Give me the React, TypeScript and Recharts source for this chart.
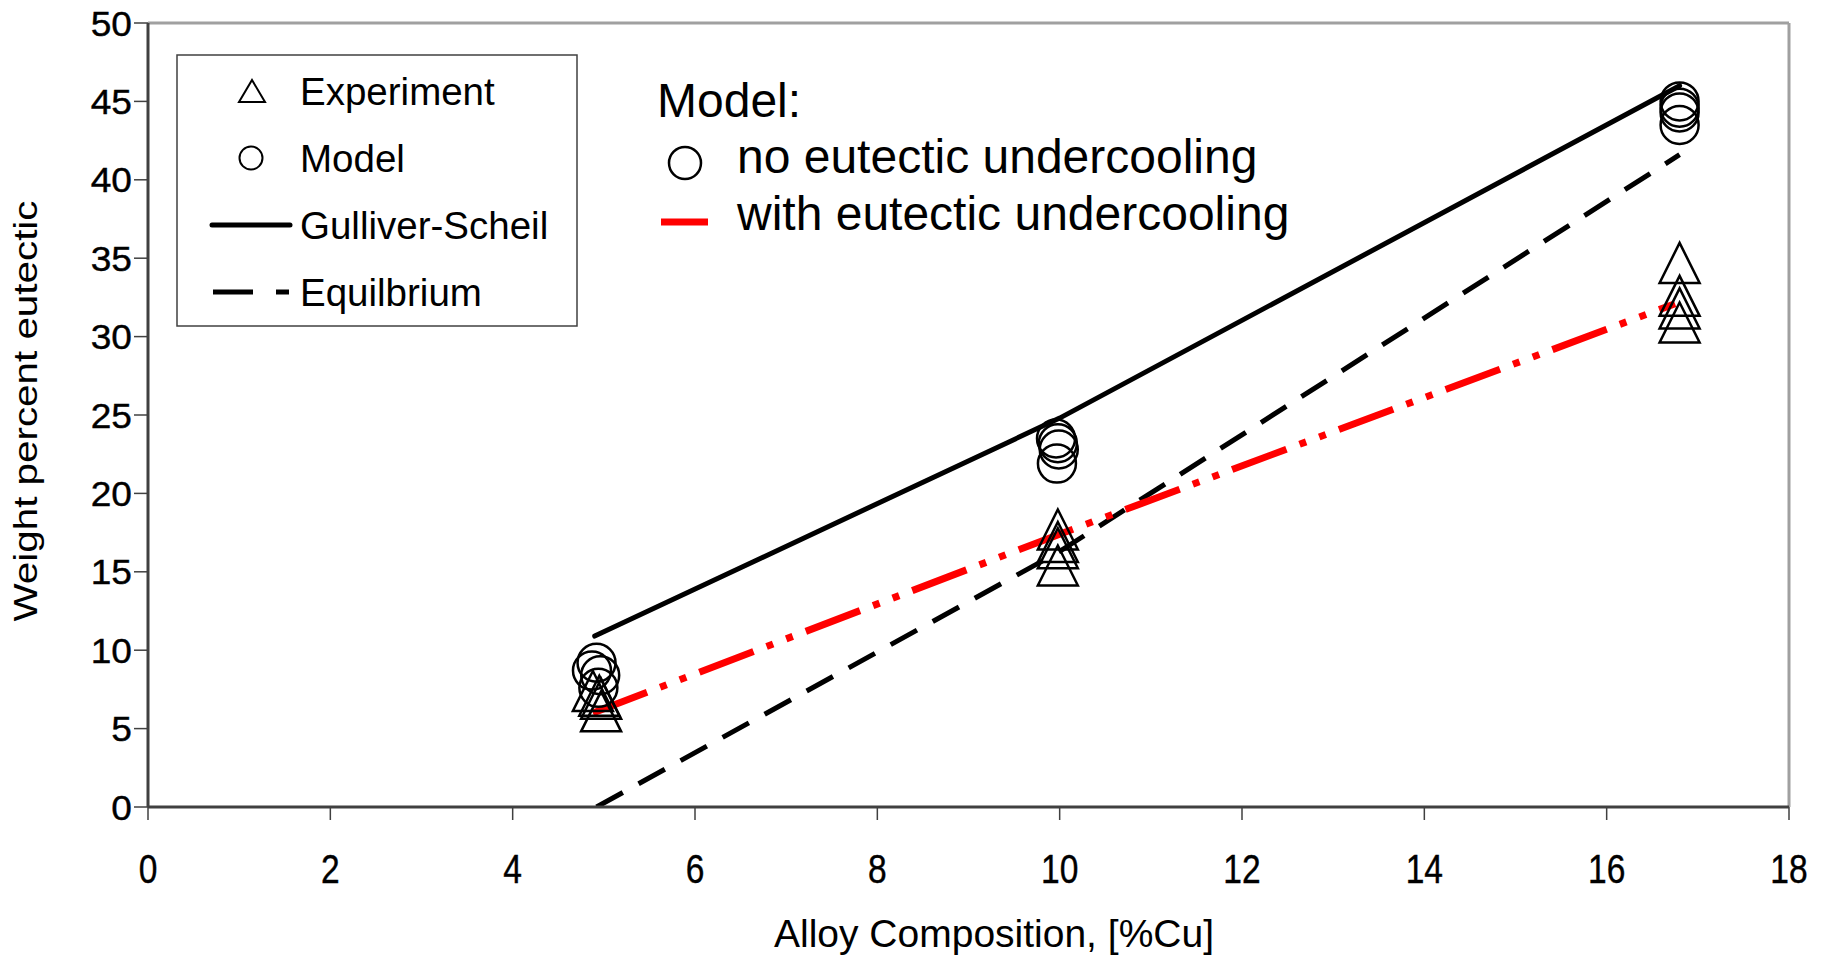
import React from 'react';
import { ComposedChart, Line, Scatter, XAxis, YAxis, ReferenceLine } from 'recharts';

const xTicks = [0, 2, 4, 6, 8, 10, 12, 14, 16, 18];
const yTicks = [0, 5, 10, 15, 20, 25, 30, 35, 40, 45, 50];

const experimentX = [4.88, 4.95, 4.97, 4.97, 9.98, 9.98, 9.98, 9.98, 16.8, 16.8, 16.8, 16.8];
const experimentY = [7.4, 7.1, 6.9, 6.1, 17.7, 16.9, 16.5, 15.4, 34.7, 32.6, 31.8, 30.9];

const modelX = [4.92, 4.87, 4.96, 4.94, 9.96, 9.98, 9.99, 9.97, 16.8, 16.8, 16.8, 16.8];
const modelY = [9.2, 8.7, 8.4, 7.6, 23.5, 23.2, 22.8, 21.9, 45.0, 44.6, 44.3, 43.5];

const scheilX = [4.9, 10.0, 16.8];
const scheilY = [10.9, 24.8, 46.0];

const equilibriumX = [4.92, 10.0, 16.8];
const equilibriumY = [0, 16.3, 41.6];

const undercoolX = [4.88, 10.0, 16.75];
const undercoolY = [6.0, 17.4, 32.1];

const zip = (xs: number[], ys: number[]) => xs.map((x, i) => ({ x, y: ys[i] }));

const experimentData = zip(experimentX, experimentY);
const modelData = zip(modelX, modelY);
const scheilData = zip(scheilX, scheilY);
const equilibriumData = zip(equilibriumX, equilibriumY);
const undercoolData = zip(undercoolX, undercoolY);

const FONT = 'Liberation Sans, Arial, sans-serif';

const Triangle = (props: any) => {
  const { cx, cy } = props;
  if (cx == null || cy == null) return null;
  const w = 20;
  const h = 20;
  return (
    <path
      d={`M${cx},${cy - h} L${cx + w},${cy + h} L${cx - w},${cy + h} Z`}
      fill="none"
      stroke="#000"
      strokeWidth={2.5}
      strokeLinejoin="miter"
    />
  );
};

const Circle = (props: any) => {
  const { cx, cy } = props;
  if (cx == null || cy == null) return null;
  return <circle cx={cx} cy={cy} r={19} fill="none" stroke="#000" strokeWidth={2.5} />;
};

const YTick = (props: any) => {
  const { x, y, payload } = props;
  return (
    <g transform={`translate(${x},${y})`}>
      <text x={0} y={0} dy={12.5} textAnchor="end" fontSize={35} fontFamily={FONT} fill="#000" stroke="#000" strokeWidth={0.4} transform="scale(1.06,1)">
        {payload.value}
      </text>
    </g>
  );
};

const XTick = (props: any) => {
  const { x, y, payload } = props;
  return (
    <g transform={`translate(${x},${y})`}>
      <text x={0} y={0} dy={63} textAnchor="middle" fontSize={40} fontFamily={FONT} fill="#000" stroke="#000" strokeWidth={0.4} transform="scale(0.84,1)">
        {payload.value}
      </text>
    </g>
  );
};

export default function App() {
  return (
    <div style={{ position: 'absolute', left: 0, top: 0, width: 1829, height: 956, background: '#fff' }}>
      <ComposedChart
        width={1829}
        height={956}
        margin={{ top: 23, right: 40, bottom: 49, left: 0 }}
      >
        <XAxis
          dataKey="x"
          type="number"
          domain={[0, 18]}
          ticks={xTicks}
          allowDataOverflow
          height={100}
          tickSize={13}
          tickMargin={0}
          axisLine={{ stroke: '#404040', strokeWidth: 3 }}
          tickLine={{ stroke: '#404040', strokeWidth: 1.5 }}
          tick={<XTick />}
          interval={0}
        />
        <YAxis
          dataKey="y"
          type="number"
          domain={[0, 50]}
          ticks={yTicks}
          allowDataOverflow
          width={148}
          tickSize={14}
          tickMargin={2}
          axisLine={{ stroke: '#404040', strokeWidth: 3 }}
          tickLine={{ stroke: '#404040', strokeWidth: 1.5 }}
          tick={<YTick />}
          interval={0}
        />
        <ReferenceLine y={50} stroke="#a0a0a0" strokeWidth={3} />
        <ReferenceLine x={18} stroke="#a0a0a0" strokeWidth={3} />
        <Scatter data={experimentData} dataKey="y" shape={<Triangle />} isAnimationActive={false} />
        <Scatter data={modelData} dataKey="y" shape={<Circle />} isAnimationActive={false} />
        <Line
          data={scheilData}
          dataKey="y"
          type="linear"
          stroke="#000"
          strokeWidth={5}
          strokeLinecap="round"
          dot={false}
          activeDot={false}
          isAnimationActive={false}
        />
        <Line
          data={equilibriumData}
          dataKey="y"
          type="linear"
          stroke="#000"
          strokeWidth={5}
          strokeDasharray="30 18"
          dot={false}
          activeDot={false}
          isAnimationActive={false}
        />
        <Line
          data={undercoolData}
          dataKey="y"
          type="linear"
          stroke="#ff0000"
          strokeWidth={7}
          strokeDasharray="58 14 7 14 7 14"
          dot={false}
          activeDot={false}
          isAnimationActive={false}
        />
      </ComposedChart>
      <svg
        width={1829}
        height={956}
        style={{ position: 'absolute', left: 0, top: 0, pointerEvents: 'none' }}
        fontFamily={FONT}
      >
        {/* Axis titles */}
        <text
          transform="translate(37,411) rotate(-90)"
          textAnchor="middle"
          fontSize={33}
          textLength={421}
          lengthAdjust="spacingAndGlyphs"
          fill="#000"
        >
          Weight percent eutectic
        </text>
        <text x={994} y={947} textAnchor="middle" fontSize={38} textLength={440} lengthAdjust="spacingAndGlyphs" fill="#000">
          Alloy Composition, [%Cu]
        </text>

        {/* Left legend */}
        <rect x={177} y={55} width={400} height={271} fill="#fff" stroke="#404040" strokeWidth={1.5} />
        <path d="M252,80 L265,102 L239,102 Z" fill="none" stroke="#000" strokeWidth={2} />
        <text x={300} y={105} fontSize={38.5} fill="#000">Experiment</text>
        <circle cx={251} cy={158} r={11.5} fill="none" stroke="#000" strokeWidth={2} />
        <text x={300} y={172} fontSize={38.5} fill="#000">Model</text>
        <line x1={212} y1={225} x2={290} y2={225} stroke="#000" strokeWidth={5} strokeLinecap="round" />
        <text x={300} y={239} fontSize={38.5} fill="#000">Gulliver-Scheil</text>
        <line x1={213} y1={292} x2={253} y2={292} stroke="#000" strokeWidth={5} />
        <line x1={276} y1={292} x2={289} y2={292} stroke="#000" strokeWidth={5} />
        <text x={300} y={306} fontSize={38.5} fill="#000">Equilbrium</text>

        {/* Right legend */}
        <text x={657} y={117} fontSize={48} fill="#000">Model:</text>
        <circle cx={685} cy={163} r={16} fill="none" stroke="#000" strokeWidth={2.5} />
        <text x={737} y={173} fontSize={48} fill="#000">no eutectic undercooling</text>
        <line x1={661} y1={222} x2={708} y2={222} stroke="#ff0000" strokeWidth={7} />
        <text x={737} y={230} fontSize={48} fill="#000">with eutectic undercooling</text>
      </svg>
    </div>
  );
}
